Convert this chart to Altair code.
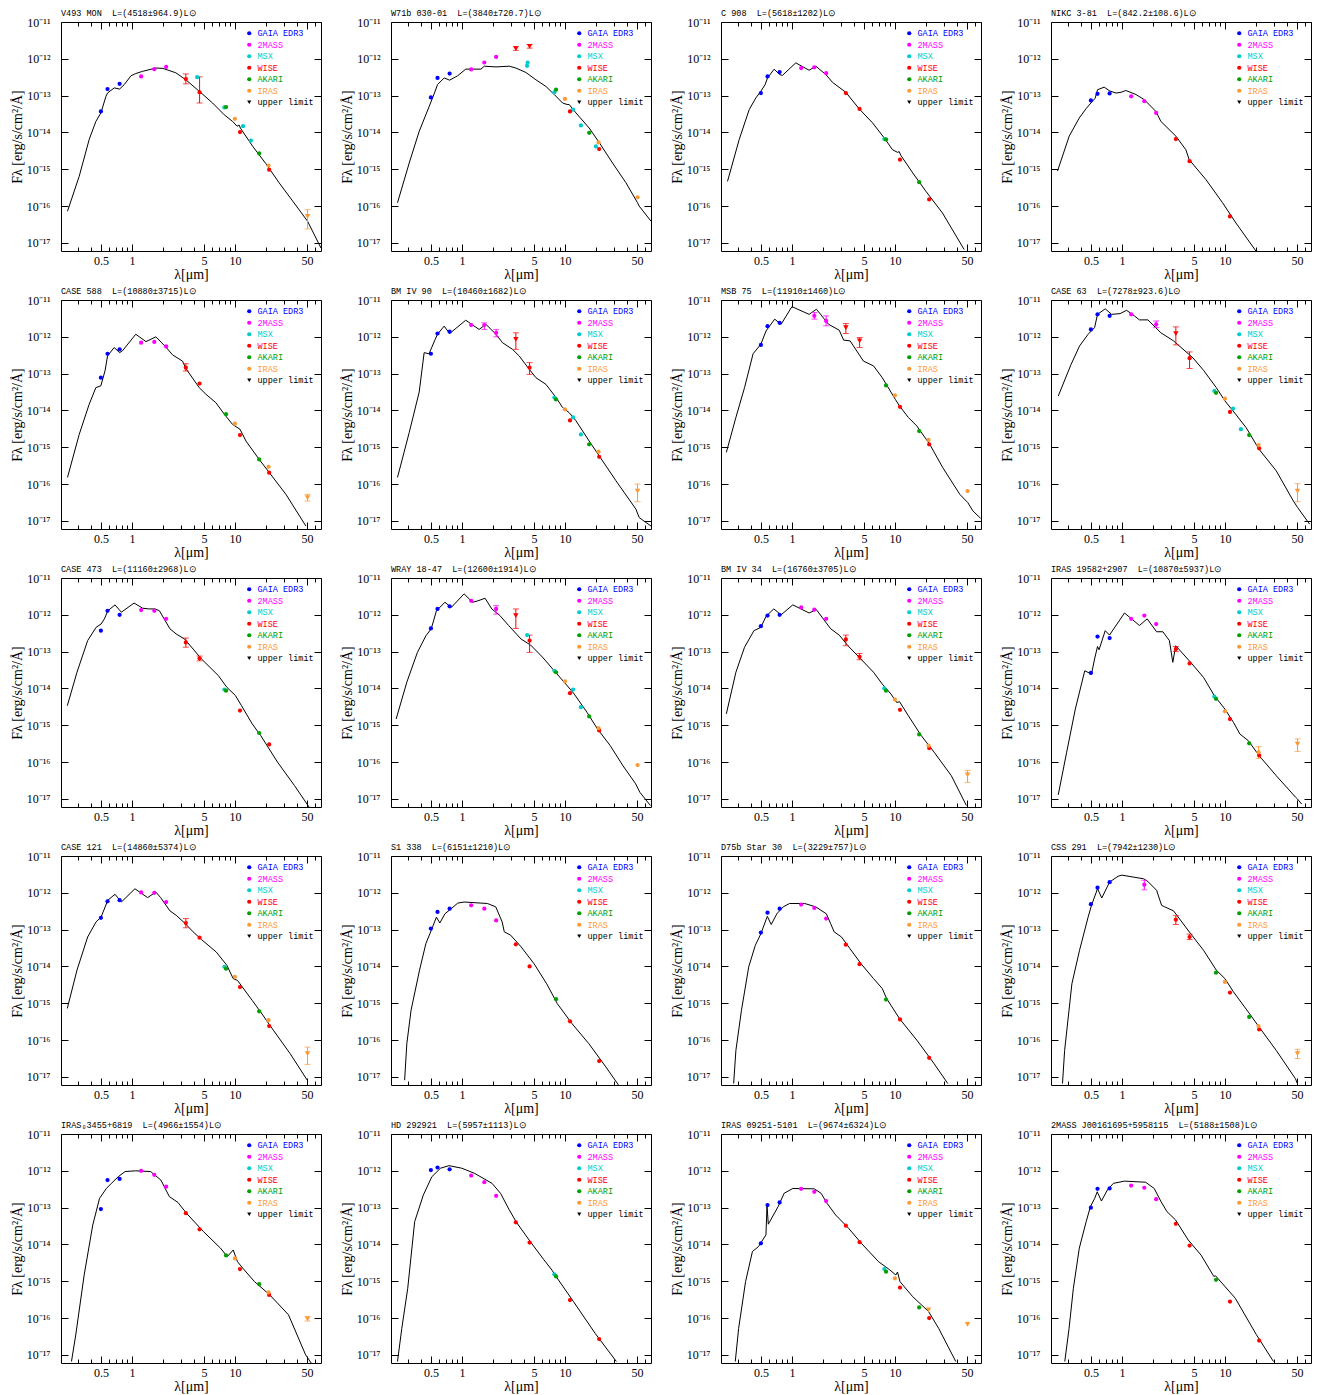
import altair as alt
import pandas as pd

G, T, M, W, A, I = "GAIA EDR3", "2MASS", "MSX", "WISE", "AKARI", "IRAS"
N = None
SURVEYS = [G, T, M, W, A, I, "upper limit"]
COLORS = ["#0000ff", "#ff00ff", "#00cccc", "#ff0000", "#00a000", "#ff9933", "#000000"]
SHAPES = ["circle"] * 6 + ["triangle-down"]

X_DOMAIN = [0.205, 68.5]
Y_DOMAIN = [-17.22, -11.0]
X_MAJOR = [0.5, 1, 5, 10, 50]
X_MINOR = [0.3, 0.4, 0.6, 0.7, 0.8, 0.9, 2, 3, 4, 6, 7, 8, 9, 20, 30, 40, 60]
Y_MAJOR = [-17, -16, -15, -14, -13, -12, -11]
Y_LABELS = ["10⁻¹⁷", "10⁻¹⁶", "10⁻¹⁵", "10⁻¹⁴", "10⁻¹³", "10⁻¹²", "10⁻¹¹"]

S = "\u00a0\u00a0"
TITLES = [
    "V493 MON" + S + "L=(4518±964.9)L⊙",
    "W71b 030-01" + S + "L=(3840±720.7)L⊙",
    "C 908" + S + "L=(5618±1202)L⊙",
    "NIKC 3-81" + S + "L=(842.2±108.6)L⊙",
    "CASE 588" + S + "L=(10880±3715)L⊙",
    "BM IV 90" + S + "L=(10460±1682)L⊙",
    "MSB 75" + S + "L=(11910±1460)L⊙",
    "CASE 63" + S + "L=(7278±923.6)L⊙",
    "CASE 473" + S + "L=(11160±2968)L⊙",
    "WRAY 18-47" + S + "L=(12600±1914)L⊙",
    "BM IV 34" + S + "L=(16760±3705)L⊙",
    "IRAS 19582+2907" + S + "L=(10870±5937)L⊙",
    "CASE 121" + S + "L=(14860±5374)L⊙",
    "S1 338" + S + "L=(6151±1210)L⊙",
    "D75b Star 30" + S + "L=(3229±757)L⊙",
    "CSS 291" + S + "L=(7942±1230)L⊙",
    "IRAS₀3455+6819" + S + "L=(4966±1554)L⊙",
    "HD 292921" + S + "L=(5957±1113)L⊙",
    "IRAS 09251-5101" + S + "L=(9674±6324)L⊙",
    "2MASS J00161695+5958115" + S + "L=(5188±1508)L⊙",
]

# model SEDs: (wavelength [um], log10 F_lambda)
MODEL_1 = [(0.237,-16.14),(0.308,-15.19),(0.385,-14.19),(0.447,-13.70),(0.50,-13.47),(0.56,-13.02),(0.58,-12.93),(0.673,-12.79),(0.76,-12.82),(0.843,-12.70),(0.98,-12.46),(1.09,-12.40),(1.27,-12.34),(1.71,-12.25),(2.0,-12.26),(2.67,-12.38),(3.34,-12.57),(4.5,-12.88),(6.07,-13.20),(7.88,-13.52),(9.49,-13.70),(10.5,-13.83),(11.0,-13.80),(11.3,-13.88),(14.9,-14.38),(20.0,-14.85),(26.9,-15.37),(36.3,-15.86),(50.7,-16.41),(68.5,-17.14)]
MODEL_2 = [(0.237,-15.91),(0.308,-14.83),(0.385,-13.97),(0.482,-13.29),(0.55,-12.88),(0.58,-12.70),(0.673,-12.52),(0.76,-12.58),(0.91,-12.46),(1.09,-12.28),(1.37,-12.28),(1.53,-12.28),(1.65,-12.20),(2.14,-12.22),(2.88,-12.20),(3.34,-12.25),(4.18,-12.37),(5.23,-12.57),(6.54,-12.75),(7.88,-12.97),(9.49,-13.20),(10.5,-13.24),(11.0,-13.24),(12.8,-13.47),(17.2,-13.88),(21.6,-14.28),(29.0,-14.83),(39.0,-15.36),(50.7,-15.91),(52.6,-16.0),(68.5,-16.41)]
MODEL_3 = [(0.237,-15.33),(0.308,-14.19),(0.385,-13.38),(0.447,-13.06),(0.50,-12.88),(0.55,-12.70),(0.58,-12.52),(0.673,-12.28),(0.76,-12.43),(0.81,-12.45),(1.09,-12.11),(1.47,-12.31),(1.71,-12.20),(2.14,-12.43),(2.48,-12.64),(3.34,-12.91),(4.5,-13.36),(6.07,-13.74),(7.88,-14.15),(9.49,-14.47),(10.6,-14.54),(11.0,-14.52),(11.4,-14.62),(14.9,-15.10),(20.0,-15.60),(29.0,-16.19),(47.0,-17.18)]
MODEL_4 = [(0.237,-15.05),(0.308,-14.10),(0.385,-13.61),(0.447,-13.36),(0.50,-13.20),(0.55,-13.07),(0.58,-12.84),(0.673,-12.77),(0.76,-12.87),(0.875,-12.93),(0.98,-12.91),(1.09,-12.86),(1.37,-12.97),(1.65,-13.11),(2.14,-13.43),(2.39,-13.70),(3.34,-14.10),(4.18,-14.47),(4.5,-14.74),(6.54,-15.28),(9.49,-15.91),(12.8,-16.46),(20.0,-17.22)]
MODEL_5 = [(0.237,-15.82),(0.308,-14.65),(0.385,-13.83),(0.447,-13.38),(0.50,-13.33),(0.55,-12.91),(0.58,-12.52),(0.673,-12.29),(0.76,-12.43),(0.81,-12.38),(1.09,-11.93),(1.37,-12.13),(1.71,-12.00),(2.14,-12.28),(2.48,-12.49),(3.1,-12.66),(3.34,-12.86),(4.5,-13.38),(5.23,-13.56),(6.54,-13.79),(7.88,-14.10),(9.49,-14.38),(11.2,-14.51),(12.8,-14.83),(17.2,-15.33),(21.6,-15.69),(31.3,-16.28),(48.9,-17.14)]
MODEL_6 = [(0.237,-15.82),(0.308,-14.6),(0.385,-13.5),(0.43,-12.43),(0.48,-12.46),(0.55,-12.07),(0.58,-11.93),(0.673,-11.71),(0.76,-11.91),(1.09,-11.55),(1.47,-11.80),(1.71,-11.66),(2.14,-11.93),(2.48,-12.16),(3.1,-12.34),(3.6,-12.52),(4.5,-12.88),(5.23,-13.11),(6.54,-13.29),(8.2,-13.65),(9.49,-13.92),(11.0,-14.06),(12.8,-14.28),(17.2,-14.83),(21.6,-15.24),(31.3,-15.91),(48.9,-16.68),(52.6,-16.91),(68.5,-17.14)]
MODEL_7 = [(0.231,-15.14),(0.286,-14.19),(0.347,-13.38),(0.42,-12.46),(0.50,-12.20),(0.561,-11.84),(0.68,-11.52),(0.786,-11.66),(1.0,-11.18),(1.47,-11.39),(1.73,-11.25),(2.27,-11.66),(2.88,-11.82),(3.18,-12.09),(3.67,-12.11),(4.95,-12.66),(6.2,-12.79),(7.54,-13.11),(10.1,-13.70),(11.1,-13.88),(13.5,-14.19),(16.3,-14.42),(21.8,-14.92),(29.1,-15.55),(42.7,-16.28),(50.9,-16.50),(57.2,-16.73),(67.9,-16.93)]
MODEL_8 = [(0.241,-13.61),(0.321,-12.75),(0.388,-12.25),(0.47,-11.93),(0.543,-11.75),(0.58,-11.39),(0.689,-11.24),(0.795,-11.39),(0.96,-11.37),(1.11,-11.28),(1.32,-11.43),(1.48,-11.54),(1.79,-11.54),(2.39,-11.89),(3.17,-12.11),(4.89,-12.57),(6.2,-12.91),(8.25,-13.38),(10.0,-13.74),(12.7,-14.10),(16.1,-14.47),(21.4,-15.05),(31.5,-15.64),(46.2,-16.46),(50.9,-16.64),(66.5,-17.09)]
MODEL_9 = [(0.236,-14.47),(0.293,-13.56),(0.372,-12.70),(0.449,-12.34),(0.502,-12.25),(0.541,-12.11),(0.584,-11.89),(0.686,-11.73),(0.79,-11.93),(1.05,-11.68),(1.27,-11.82),(1.46,-11.84),(1.68,-11.84),(1.85,-11.89),(2.34,-12.38),(2.69,-12.52),(3.25,-12.66),(3.93,-12.93),(4.74,-13.20),(6.9,-13.65),(8.36,-13.97),(10.1,-14.19),(11.6,-14.47),(14.7,-14.96),(17.8,-15.28),(25.9,-16.00),(37.9,-16.64),(52.7,-17.23)]
MODEL_10 = [(0.23,-14.83),(0.292,-13.83),(0.37,-13.02),(0.447,-12.57),(0.504,-12.38),(0.566,-11.89),(0.684,-11.66),(0.789,-11.80),(1.05,-11.43),(1.27,-11.66),(1.43,-11.62),(1.68,-11.55),(1.95,-11.84),(2.34,-12.02),(2.84,-12.29),(3.76,-12.66),(4.64,-12.82),(6.06,-13.15),(7.87,-13.52),(10.2,-13.88),(12.3,-14.15),(16.4,-14.65),(20.7,-15.10),(27.5,-15.55),(36.6,-16.10),(48.6,-16.59),(53.4,-16.82),(67.6,-17.18)]
MODEL_11 = [(0.231,-14.69),(0.286,-13.56),(0.347,-12.88),(0.428,-12.43),(0.50,-12.34),(0.561,-12.04),(0.667,-11.84),(0.786,-12.00),(1.02,-11.73),(1.47,-11.95),(1.73,-11.86),(2.38,-12.38),(2.88,-12.55),(3.5,-12.84),(4.67,-13.20),(6.2,-13.56),(7.54,-13.88),(9.15,-14.15),(10.4,-14.38),(11.1,-14.36),(13.5,-14.74),(18.0,-15.28),(24.0,-15.73),(35.3,-16.37),(49.4,-17.18)]
MODEL_12 = [(0.241,-16.89),(0.291,-15.73),(0.353,-14.56),(0.436,-13.52),(0.507,-13.61),(0.543,-13.20),(0.58,-12.86),(0.60,-12.95),(0.689,-12.43),(0.758,-12.55),(1.06,-11.95),(1.48,-12.29),(1.76,-12.11),(2.17,-12.46),(2.5,-12.46),(2.89,-12.70),(3.12,-13.29),(3.33,-12.84),(4.65,-13.29),(6.2,-13.70),(7.87,-14.19),(10.0,-14.56),(12.1,-14.92),(14.0,-15.24),(16.9,-15.42),(21.4,-15.82),(31.5,-16.37),(48.4,-16.95),(50.5,-17.0),(55.6,-17.14)]
MODEL_13 = [(0.236,-15.14),(0.293,-14.10),(0.372,-13.20),(0.449,-12.79),(0.502,-12.66),(0.584,-12.20),(0.686,-12.04),(0.79,-12.25),(1.07,-11.89),(1.42,-12.13),(1.71,-11.98),(1.9,-12.13),(2.34,-12.49),(2.69,-12.61),(3.25,-12.82),(3.93,-13.06),(4.74,-13.27),(6.6,-13.61),(8.36,-13.97),(9.62,-14.33),(10.6,-14.38),(11.6,-14.53),(14.7,-14.92),(17.8,-15.24),(23.6,-15.73),(34.4,-16.37),(50.4,-17.09)]
MODEL_14 = [(0.278,-17.09),(0.292,-16.10),(0.321,-15.19),(0.388,-14.10),(0.447,-13.38),(0.504,-13.02),(0.566,-12.66),(0.611,-12.82),(0.684,-12.57),(0.789,-12.43),(0.91,-12.28),(1.05,-12.25),(1.77,-12.29),(2.13,-12.38),(2.46,-12.79),(2.58,-13.06),(2.97,-13.15),(3.76,-13.47),(5.0,-13.92),(6.65,-14.47),(8.43,-15.01),(11.7,-15.55),(17.1,-16.10),(25.0,-16.73),(33.3,-17.23)]
MODEL_15 = [(0.272,-17.18),(0.286,-16.28),(0.324,-15.19),(0.381,-14.01),(0.441,-13.43),(0.50,-13.11),(0.577,-12.64),(0.63,-12.86),(0.714,-12.57),(0.825,-12.38),(0.95,-12.29),(1.33,-12.29),(1.7,-12.38),(2.16,-12.57),(2.38,-12.84),(2.57,-13.06),(3.03,-13.20),(3.67,-13.52),(4.67,-13.92),(6.2,-14.33),(7.54,-14.60),(8.3,-14.87),(11.1,-15.42),(16.3,-16.00),(24.0,-16.64),(32.6,-17.18)]
MODEL_16 = [(0.265,-17.18),(0.278,-16.28),(0.327,-14.47),(0.388,-13.56),(0.47,-12.66),(0.507,-12.34),(0.58,-11.89),(0.638,-12.14),(0.758,-11.71),(0.918,-11.55),(1.0,-11.52),(1.63,-11.62),(1.8,-11.70),(2.17,-11.93),(2.43,-12.34),(2.6,-12.38),(3.17,-12.49),(4.65,-13.11),(6.2,-13.56),(8.25,-14.10),(10.0,-14.33),(12.1,-14.69),(16.9,-15.24),(21.4,-15.64),(31.5,-16.28),(48.4,-17.05),(50.5,-17.18)]
MODEL_17 = [(0.259,-17.18),(0.285,-16.46),(0.344,-14.83),(0.417,-13.47),(0.485,-12.75),(0.565,-12.48),(0.633,-12.34),(0.737,-12.16),(0.859,-12.02),(1.08,-12.00),(1.52,-12.02),(1.91,-12.25),(2.31,-12.70),(2.8,-12.86),(3.38,-13.15),(4.95,-13.65),(7.24,-14.10),(8.43,-14.33),(9.63,-14.15),(10.6,-14.47),(12.3,-14.69),(15.5,-15.01),(21.8,-15.37),(33.1,-15.91),(48.6,-17.0),(55.0,-17.22)]
MODEL_18 = [(0.237,-17.18),(0.261,-16.28),(0.298,-15.19),(0.348,-13.38),(0.422,-12.66),(0.511,-12.16),(0.619,-11.93),(0.75,-11.86),(1.0,-11.93),(1.33,-12.07),(1.96,-12.34),(2.37,-12.61),(2.87,-13.05),(3.35,-13.38),(4.63,-13.93),(6.19,-14.40),(7.5,-14.70),(8.25,-14.88),(12.1,-15.55),(19.6,-16.41),(31.6,-17.18)]
MODEL_19 = [(0.282,-17.18),(0.304,-16.28),(0.355,-15.01),(0.414,-14.19),(0.473,-14.06),(0.56,-13.74),(0.573,-12.93),(0.59,-13.45),(0.736,-12.97),(0.841,-12.61),(1.02,-12.48),(1.65,-12.49),(1.92,-12.61),(2.19,-12.88),(2.66,-13.20),(3.55,-13.56),(4.73,-13.97),(6.95,-14.47),(8.91,-14.69),(10.2,-14.83),(10.6,-14.75),(11.2,-15.01),(14.9,-15.42),(21.2,-15.82),(26.6,-16.28),(39.0,-17.18)]
MODEL_20 = [(0.279,-17.18),(0.307,-16.28),(0.338,-15.19),(0.386,-14.10),(0.45,-13.38),(0.495,-12.97),(0.544,-12.75),(0.576,-12.57),(0.633,-12.82),(0.723,-12.52),(0.827,-12.34),(1.06,-12.28),(1.70,-12.31),(2.06,-12.48),(2.4,-12.84),(2.74,-13.11),(3.31,-13.33),(4.41,-13.88),(5.87,-14.29),(7.81,-14.87),(8.1,-14.85),(12.6,-15.46),(20.2,-16.45),(29.6,-17.18)]

# photometry: (survey, wavelength, log10 F, err_low, err_high, upper_limit)
PHOT_1 = [(G,0.50,-13.43),(G,0.58,-12.82),(G,0.76,-12.68),(T,1.23,-12.48),(T,1.65,-12.28),(T,2.15,-12.22),(M,4.3,-12.50),(M,7.9,-13.32),(M,12.0,-13.83),(M,14.3,-14.22),(W,3.34,-12.55,-12.68,-12.41),(W,4.54,-12.91,-13.20,-12.49),(W,11.2,-13.99),(W,21.5,-15.01),(A,8.2,-13.31),(A,17.2,-14.57),(I,10.0,-13.63),(I,21.2,-14.90),(I,50.7,-16.28,-16.62,-16.10,1)]
PHOT_2 = [(G,0.50,-13.05),(G,0.58,-12.52),(G,0.76,-12.40),(T,1.23,-12.29),(T,1.65,-12.10),(T,2.15,-11.95),(M,4.29,-12.19),(M,4.35,-12.10),(M,7.9,-12.91),(M,12.0,-13.38),(M,14.3,-13.81),(M,20.0,-14.38),(W,3.34,-11.72,-11.77,-11.67,1),(W,4.54,-11.66,-11.71,-11.61,1),(W,11.2,-13.43),(W,21.5,-14.45),(A,8.2,-12.84),(A,17.2,-14.01),(I,10.0,-13.09),(I,21.2,-14.27),(I,50.7,-15.76)]
PHOT_3 = [(G,0.50,-12.93),(G,0.58,-12.48),(G,0.76,-12.36),(T,1.23,-12.25),(T,1.65,-12.23),(T,2.15,-12.39),(M,7.9,-14.18),(W,3.34,-12.93),(W,4.54,-13.36),(W,11.2,-14.74),(W,21.5,-15.82),(A,8.2,-14.19),(A,17.2,-15.35)]
PHOT_4 = [(G,0.50,-13.13),(G,0.58,-12.95),(G,0.76,-12.94),(T,1.23,-13.02),(T,1.65,-13.15),(T,2.15,-13.47),(W,3.34,-14.18),(W,4.54,-14.78),(W,11.2,-16.28)]
PHOT_5 = [(G,0.50,-13.11),(G,0.58,-12.46),(G,0.76,-12.34),(T,1.23,-12.16),(T,1.65,-12.14),(T,2.15,-12.26),(W,3.34,-12.84,-12.93,-12.73),(W,4.54,-13.27),(W,11.2,-14.67),(W,21.5,-15.69),(A,8.2,-14.10),(A,17.2,-15.33),(I,10.0,-14.36),(I,21.2,-15.53),(I,50.7,-16.37,-16.46,-16.28,1)]
PHOT_6 = [(G,0.50,-12.46),(G,0.58,-11.91),(G,0.76,-11.86),(T,1.23,-11.68),(T,1.65,-11.68,-11.80,-11.62),(T,2.15,-11.89,-12.00,-11.80),(M,7.9,-13.65),(M,12.0,-14.19),(M,14.3,-14.65),(W,3.34,-12.07,-12.34,-11.89,1),(W,4.54,-12.84,-13.02,-12.70),(W,11.2,-14.27),(W,21.5,-15.26),(A,8.2,-13.70),(A,17.2,-14.92),(I,10.0,-13.97),(I,21.2,-15.12),(I,50.7,-16.19,-16.48,-16.00,1)]
PHOT_7 = [(G,0.50,-12.22),(G,0.58,-11.71),(G,0.76,-11.62),(T,1.65,-11.43,-11.52,-11.34),(T,2.15,-11.57,-11.70,-11.43),(W,3.34,-11.75,-11.91,-11.64,1),(W,4.54,-12.11,-12.29,-12.02,1),(W,11.2,-13.90),(W,21.5,-14.92),(A,8.2,-13.32),(A,17.2,-14.56),(I,10.0,-13.59),(I,21.2,-14.80),(I,50.7,-16.19)]
PHOT_8 = [(G,0.50,-11.80),(G,0.58,-11.39),(G,0.76,-11.43),(T,1.23,-11.39),(T,2.15,-11.66,-11.75,-11.57),(M,7.9,-13.47),(M,12.0,-13.95),(M,14.3,-14.51),(W,3.34,-11.91,-12.22,-11.73,1),(W,4.54,-12.58,-12.86,-12.41),(W,11.2,-14.04),(W,21.5,-15.03),(A,8.2,-13.52),(A,17.2,-14.67),(I,10.0,-13.68),(I,21.2,-14.94),(I,50.7,-16.19,-16.48,-15.99,1)]
PHOT_9 = [(G,0.50,-12.43),(G,0.58,-11.89),(G,0.76,-12.00),(T,1.23,-11.87),(T,1.65,-11.89),(T,2.15,-12.11),(M,7.9,-14.03),(W,3.34,-12.75,-12.88,-12.63),(W,4.54,-13.18,-13.25,-13.12),(W,11.2,-14.60),(W,21.5,-15.52),(A,8.2,-14.06),(A,17.2,-15.21)]
PHOT_10 = [(G,0.50,-12.37),(G,0.58,-11.84),(G,0.76,-11.77),(T,1.23,-11.62),(T,2.15,-11.84,-11.98,-11.75),(M,4.3,-12.55),(M,7.9,-13.52),(M,12.0,-14.03),(M,14.3,-14.51),(W,3.34,-12.02,-12.37,-11.84,1),(W,4.54,-12.70,-13.02,-12.55),(W,11.2,-14.13),(W,21.5,-15.14),(A,8.2,-13.56),(A,17.2,-14.76),(I,10.0,-13.81),(I,21.2,-15.08),(I,50.7,-16.08)]
PHOT_11 = [(G,0.50,-12.31),(G,0.58,-12.02),(G,0.76,-12.00),(T,1.23,-11.80),(T,1.65,-11.86),(T,2.15,-12.11),(M,7.9,-14.00),(W,3.34,-12.67,-12.84,-12.55),(W,4.54,-13.14,-13.22,-13.05),(W,11.2,-14.58),(W,21.5,-15.62),(A,8.2,-14.06),(A,17.2,-15.25),(I,10.0,-14.30),(I,21.2,-15.55),(I,50.7,-16.35,-16.55,-16.23,1)]
PHOT_12 = [(G,0.50,-13.58),(G,0.58,-12.59),(G,0.76,-12.63),(T,1.23,-12.11),(T,1.65,-12.02),(T,2.15,-12.25),(M,7.9,-14.22),(W,3.34,-12.93,-13.00,-12.86),(W,4.54,-13.32),(W,11.2,-14.83),(W,21.5,-15.82),(A,8.2,-14.28),(A,17.2,-15.49),(I,10.0,-14.62),(I,21.2,-15.73,-15.90,-15.58),(I,50.7,-15.51,-15.71,-15.37,1)]
PHOT_13 = [(G,0.50,-12.68),(G,0.58,-12.23),(G,0.76,-12.20),(T,1.23,-11.99),(T,1.65,-12.00),(T,2.15,-12.25),(M,7.9,-14.01),(W,3.34,-12.82,-12.95,-12.70),(W,4.54,-13.22),(W,11.2,-14.56),(W,21.5,-15.62),(A,8.2,-14.06),(A,17.2,-15.22),(I,10.0,-14.28),(I,21.2,-15.46),(I,50.7,-16.37,-16.66,-16.19,1)]
PHOT_14 = [(G,0.50,-12.97),(G,0.58,-12.52),(G,0.76,-12.43),(T,1.23,-12.34),(T,1.65,-12.43),(T,2.15,-12.75),(W,3.34,-13.40),(W,4.54,-14.00),(W,11.2,-15.49),(W,21.5,-16.57),(A,8.2,-14.89)]
PHOT_15 = [(G,0.50,-13.08),(G,0.58,-12.54),(G,0.76,-12.43),(T,1.23,-12.32),(T,1.65,-12.41),(T,2.15,-12.70),(W,3.34,-13.41),(W,4.54,-13.94),(W,11.2,-15.44),(W,21.5,-16.48),(A,8.2,-14.90)]
PHOT_16 = [(G,0.50,-12.31),(G,0.58,-11.86),(G,0.76,-11.71),(T,1.65,-11.78,-11.92,-11.66),(W,3.34,-12.73,-12.86,-12.62),(W,4.54,-13.20,-13.27,-13.12),(W,11.2,-14.71),(W,21.5,-15.71),(A,8.2,-14.17),(A,17.2,-15.37),(I,10.0,-14.42),(I,21.2,-15.62),(I,50.7,-16.37,-16.50,-16.25,1)]
PHOT_17 = [(G,0.50,-13.04),(G,0.58,-12.25),(G,0.76,-12.22),(T,1.23,-12.00),(T,1.65,-12.11),(T,2.15,-12.43),(W,3.34,-13.15),(W,4.54,-13.59),(W,11.2,-14.67),(W,21.5,-15.37),(A,8.2,-14.30),(A,17.2,-15.08),(I,10.0,-14.38),(I,21.2,-15.30),(I,50.7,-16.02,-16.08,-15.96,1)]
PHOT_18 = [(G,0.50,-11.98),(G,0.58,-11.91),(G,0.76,-11.96),(T,1.23,-12.13),(T,1.65,-12.31),(T,2.15,-12.68),(M,7.9,-14.81),(W,3.34,-13.40),(W,4.54,-13.95),(W,11.2,-15.51),(W,21.5,-16.57),(A,8.2,-14.87)]
PHOT_19 = [(G,0.50,-13.97),(G,0.58,-12.93),(G,0.76,-12.86),(T,1.23,-12.49),(T,1.65,-12.57),(T,2.15,-12.82),(M,7.9,-14.67),(W,3.34,-13.49),(W,4.54,-13.94),(W,11.2,-15.17),(W,21.5,-16.00),(A,8.2,-14.74),(A,17.2,-15.71),(I,10.0,-14.92),(I,21.2,-15.78,N,N,1),(I,50.7,-16.17,N,N,1)]
PHOT_20 = [(G,0.50,-13.00),(G,0.58,-12.49),(G,0.76,-12.48),(T,1.23,-12.40),(T,1.65,-12.46),(T,2.15,-12.77),(W,3.34,-13.44),(W,4.54,-14.03),(W,11.2,-15.55),(W,21.5,-16.61),(A,8.2,-14.96)]

MODELS = [MODEL_1, MODEL_2, MODEL_3, MODEL_4, MODEL_5, MODEL_6, MODEL_7, MODEL_8, MODEL_9, MODEL_10,
          MODEL_11, MODEL_12, MODEL_13, MODEL_14, MODEL_15, MODEL_16, MODEL_17, MODEL_18, MODEL_19, MODEL_20]
PHOTS = [PHOT_1, PHOT_2, PHOT_3, PHOT_4, PHOT_5, PHOT_6, PHOT_7, PHOT_8, PHOT_9, PHOT_10,
         PHOT_11, PHOT_12, PHOT_13, PHOT_14, PHOT_15, PHOT_16, PHOT_17, PHOT_18, PHOT_19, PHOT_20]

SERIF = "Liberation Serif"
MONO = "Liberation Mono"

Y_EXPR = "".join(f"datum.value == {v} ? '{t}' : " for v, t in zip(Y_MAJOR, Y_LABELS)) + "''"
LEG_EXPR = "".join(f"datum.label == '{s}' ? '{c}' : " for s, c in zip(SURVEYS, COLORS)) + "'black'"

XS = alt.Scale(type="log", domain=X_DOMAIN, nice=False)
YS = alt.Scale(domain=Y_DOMAIN, nice=False, zero=False)
CS = alt.Scale(domain=SURVEYS, range=COLORS)
SS = alt.Scale(domain=SURVEYS, range=SHAPES)

COMMON = dict(domain=False, grid=False, tickColor="black", tickWidth=1)
AX_BOT_MAJ = alt.Axis(orient="bottom", values=X_MAJOR, format="~g", tickSize=7, offset=-7,
                      labelPadding=4, labelFlush=False, labelOverlap=False, labelFont=SERIF,
                      labelFontSize=12, labelColor="black", title="λ[μm]", titleFont=SERIF,
                      titleFontSize=14, titleFontWeight="normal", titleColor="black",
                      titlePadding=1, **COMMON)
AX_BOT_MIN = alt.Axis(orient="bottom", values=X_MINOR, tickSize=4, offset=-4, labels=False, title=None, **COMMON)
AX_TOP_MAJ = alt.Axis(orient="top", values=X_MAJOR, tickSize=7, offset=-7, labels=False, title=None, **COMMON)
AX_TOP_MIN = alt.Axis(orient="top", values=X_MINOR, tickSize=4, offset=-4, labels=False, title=None, **COMMON)
AX_LEFT = alt.Axis(orient="left", values=Y_MAJOR, tickSize=7, offset=-7, labelExpr=Y_EXPR,
                   labelPadding=11, labelFlush=False, labelOverlap=False, labelFont=SERIF,
                   labelFontSize=12, labelColor="black", title="Fλ [erg/s/cm²/Å]", titleFont=SERIF,
                   titleFontSize=14, titleFontWeight="normal", titleColor="black", titlePadding=2,
                   **COMMON)
AX_RIGHT = alt.Axis(orient="right", values=Y_MAJOR, tickSize=7, offset=-7, labels=False, title=None, **COMMON)

LEG = alt.Legend(title=None, orient="top-right", offset=7, padding=0, labelFont=MONO,
                 labelFontSize=8.5, labelColor={"expr": LEG_EXPR}, symbolSize=18, symbolOpacity=1,
                 symbolStrokeWidth=0, rowPadding=2.5, labelOffset=4, labelLimit=200)


def panel(i):
    model = pd.DataFrame(MODELS[i], columns=["wl", "f"])
    rows = []
    for t in PHOTS[i]:
        t = tuple(t) + (None,) * (6 - len(t))
        s, w, f, lo, hi, ul = t
        rows.append({"survey": s, "wl": w, "f": f, "lo": lo, "hi": hi, "ul": 1 if ul else 0})
    phot = alt.Data(values=rows)
    col = alt.Color("survey:N", scale=CS, legend=None)

    # legend layer first so that its legend definition wins the merge
    leg = alt.Chart(alt.Data(values=[{"cat": s} for s in SURVEYS])).mark_point(
        filled=True, opacity=0, size=18).encode(
        color=alt.Color("cat:N", scale=CS, legend=LEG),
        shape=alt.Shape("cat:N", scale=SS, legend=LEG))
    line = alt.Chart(model).mark_line(color="black", strokeWidth=1, clip=True).encode(
        x=alt.X("wl:Q", scale=XS, axis=AX_BOT_MAJ),
        y=alt.Y("f:Q", scale=YS, axis=AX_LEFT))
    err = alt.Chart(phot).transform_filter("datum.lo != null").mark_rule(strokeWidth=1, clip=True).encode(
        x=alt.X("wl:Q", scale=XS, axis=AX_TOP_MAJ),
        y=alt.Y("lo:Q", scale=YS, axis=None),
        y2=alt.Y2("hi:Q"),
        color=col)
    caps = alt.Chart(phot).transform_filter("datum.lo != null").transform_fold(
        ["lo", "hi"], as_=["k", "v"]).mark_tick(orient="horizontal", size=6, thickness=1, clip=True).encode(
        x=alt.X("wl:Q", scale=XS, axis=AX_TOP_MIN),
        y=alt.Y("v:Q", scale=YS, axis=None),
        color=col)
    pts = alt.Chart(phot).transform_filter("datum.ul == 0").mark_circle(size=18, opacity=1, clip=True).encode(
        x=alt.X("wl:Q", scale=XS, axis=AX_BOT_MIN),
        y=alt.Y("f:Q", scale=YS, axis=AX_RIGHT),
        color=col)
    uls = alt.Chart(phot).transform_filter("datum.ul == 1").mark_point(
        shape="triangle-down", filled=True, size=30, opacity=1, clip=True).encode(
        x=alt.X("wl:Q", scale=XS, axis=None),
        y=alt.Y("f:Q", scale=YS, axis=None),
        color=col)

    return alt.layer(leg, line, err, caps, pts, uls).resolve_axis(
        x="independent", y="independent").properties(
        width=260, height=229,
        title=alt.TitleParams(text=TITLES[i], anchor="start", font=MONO, fontSize=8.5,
                              fontWeight="normal", color="black", offset=-1, frame="group"))


panels = [panel(i) for i in range(20)]
chart = alt.concat(*panels, columns=4, spacing={"row": 49, "column": 70}, bounds="flush")
chart = chart.resolve_scale(x="independent", y="independent", color="independent", shape="independent")
chart = chart.resolve_legend(color="independent", shape="independent")
chart = chart.properties(padding={"left": 1, "top": 0, "right": 0, "bottom": 0}, background="white")
chart = chart.configure_view(stroke="black", strokeWidth=1)
chart.save("out.html", embed_options={"renderer": "svg", "actions": False})
